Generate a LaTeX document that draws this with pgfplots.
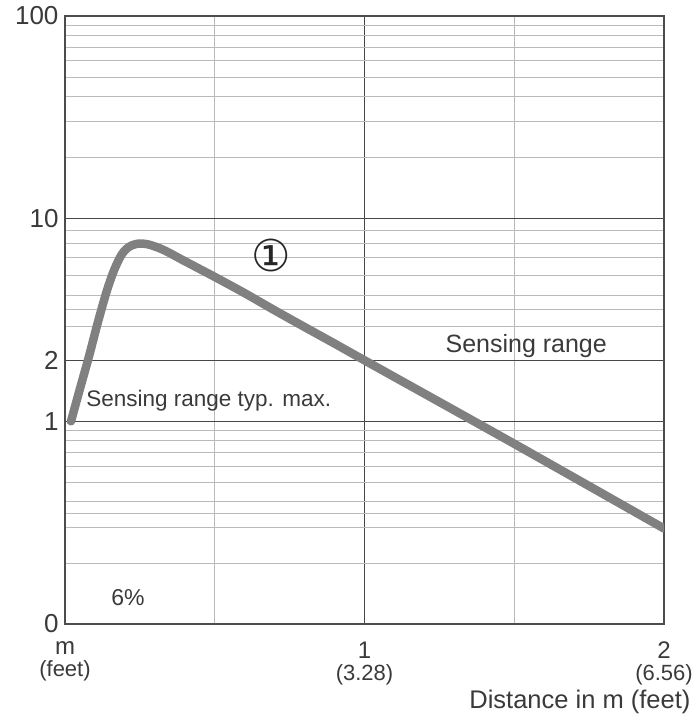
\documentclass[border=0pt]{standalone}
\usepackage{fontspec}
\setmainfont{Liberation Sans}
\newfontfamily\symfont{DejaVu Sans}
\usepackage{pgfplots}
\pgfplotsset{compat=1.18}

\definecolor{txt}{HTML}{3A3A3A}
\definecolor{curve}{HTML}{808080}

\begin{document}
\begin{tikzpicture}
% picture frame, axis sits at (0,0)
\path[use as bounding box] (-65pt,-97pt) rectangle (632pt,624pt);
\begin{axis}[
    scale only axis,
    width=599pt, height=608pt,
    xmin=0, xmax=2,
    ymode=log, ymin=0.1, ymax=100,
    xtick={0,1,2},
    xticklabels={{m\\\fontsize{22}{22}\selectfont(feet)},
                 {1\\\fontsize{22}{22}\selectfont(3.28)},
                 {2\\\fontsize{22}{22}\selectfont(6.56)}},
    minor xtick={0.5,1.5},
    ytick={0.1,1,2,10,100},
    yticklabels={0,1,2,10,100},
    minor ytick={0.2,0.3,0.35,0.4,0.5,0.6,0.7,0.8,0.9,
                 2.93,3.55,4.2,5.25,6.45,7.55,8.74,
                 20,30,40,50,60,70,80,90},
    major tick length=0pt, minor tick length=0pt,
    grid=both,
    major grid style={draw=black!72, line width=1pt},
    minor grid style={draw=black!27, line width=1pt},
    axis line style={draw=black!70, line width=1.3pt},
    x tick label style={align=center, font=\fontsize{24}{22}\selectfont,
        text=txt, yshift=-14pt},
    y tick label style={font=\fontsize{26}{26}\selectfont, text=txt,
        xshift=-3pt},
    xlabel={Distance in m (feet)},
    xlabel style={at={(rel axis cs:1,0)}, anchor=east, xshift=30pt,
        yshift=-78pt, font=\fontsize{25.5}{26}\selectfont, text=txt},
]
\addplot[curve, line width=8.5pt, line cap=round, smooth] coordinates {
    (0.02,1.0) (0.05,1.45) (0.08,2.09) (0.11,3.09) (0.14,4.42)
    (0.165,5.62) (0.19,6.68) (0.215,7.28) (0.245,7.53) (0.28,7.45)
    (0.33,7.0) (0.40,6.17) (0.50,5.16) (0.60,4.29) (0.70,3.53)
    (0.80,2.92) (0.90,2.42) (1.0,2.0) (1.5,0.775) (2.0,0.296)
};
\node[text=txt, font=\fontsize{22.5}{26}\selectfont] at (axis cs:0.48,1.27) {Sensing range typ. max.};
\node[text=txt, font=\fontsize{25}{26}\selectfont] at (axis cs:1.54,2.34) {Sensing range};
\node[text=txt, font=\fontsize{23}{26}\selectfont] at (axis cs:0.21,0.135) {6\%};
\node[text=black!85, font=\symfont\fontsize{44}{48}\selectfont] at (axis cs:0.69,6.6) {①};
\end{axis}
\end{tikzpicture}
\end{document}
